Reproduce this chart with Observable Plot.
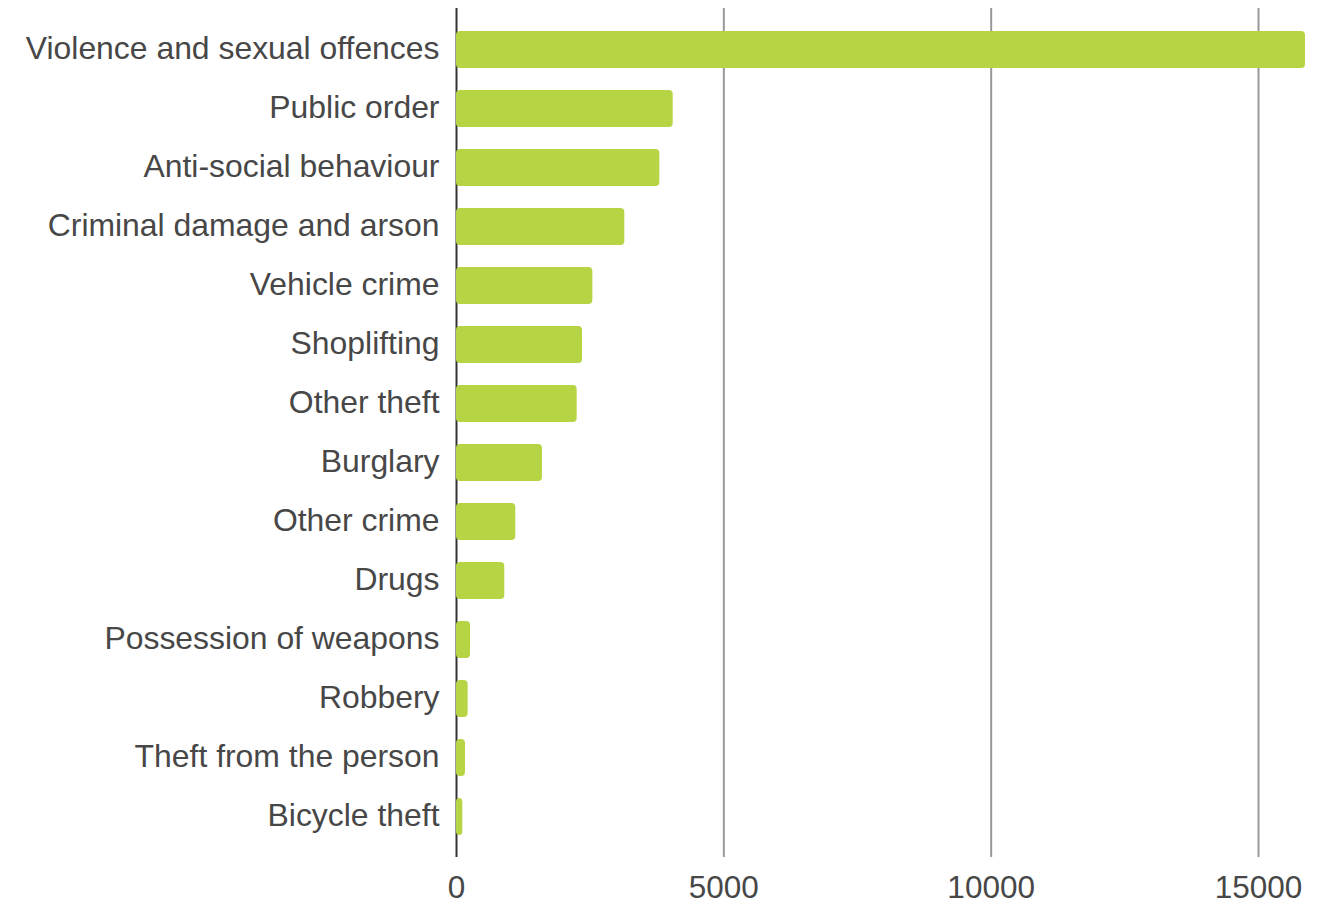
<!DOCTYPE html>
<html>
<head>
<meta charset="utf-8">
<script src="https://cdn.jsdelivr.net/npm/d3@7"></script>
<script src="https://cdn.jsdelivr.net/npm/@observablehq/plot@0.6"></script>
<style>
  html, body { margin: 0; padding: 0; background: #fff; }
  #chart svg { display: block; }
</style>
</head>
<body>
<div id="chart"></div>
<script>
const categories = [
  "Violence and sexual offences", "Public order", "Anti-social behaviour",
  "Criminal damage and arson", "Vehicle crime", "Shoplifting", "Other theft",
  "Burglary", "Other crime", "Drugs", "Possession of weapons", "Robbery",
  "Theft from the person", "Bicycle theft"
];
const counts = [15879, 4053, 3803, 3148, 2550, 2357, 2257, 1608, 1109, 903, 262, 218, 168, 118];
const xTicks = [0, 5000, 10000, 15000];

const data = categories.map((c, i) => ({category: c, count: counts[i]}));

const chart = Plot.plot({
  width: 1331,
  height: 906,
  marginTop: 8,
  marginBottom: 49,
  marginLeft: 456,
  marginRight: 26,
  style: {fontFamily: "'Liberation Sans', Arial, sans-serif", color: "#444", background: "#fff"},
  x: {domain: [0, 15879], ticks: xTicks},
  y: {domain: categories, padding: 0.375},
  marks: [
    Plot.gridX(xTicks.filter(d => d > 0), {stroke: "#999", strokeOpacity: 1, strokeWidth: 2}),
    Plot.ruleX([0], {stroke: "#333", strokeWidth: 2}),
    Plot.barX(data, {x: "count", y: "category", fill: "#b7d444", rx: 4}),
    Plot.axisY({tickSize: 0, tickPadding: 17, fontSize: 31.9, label: null, fill: "#474747", dy: -1}),
    Plot.axisX({ticks: xTicks, tickSize: 0, tickPadding: 18, fontSize: 31.5, label: null, tickFormat: "d", fill: "#474747"})
  ]
});
document.getElementById("chart").appendChild(chart);
</script>
</body>
</html>
